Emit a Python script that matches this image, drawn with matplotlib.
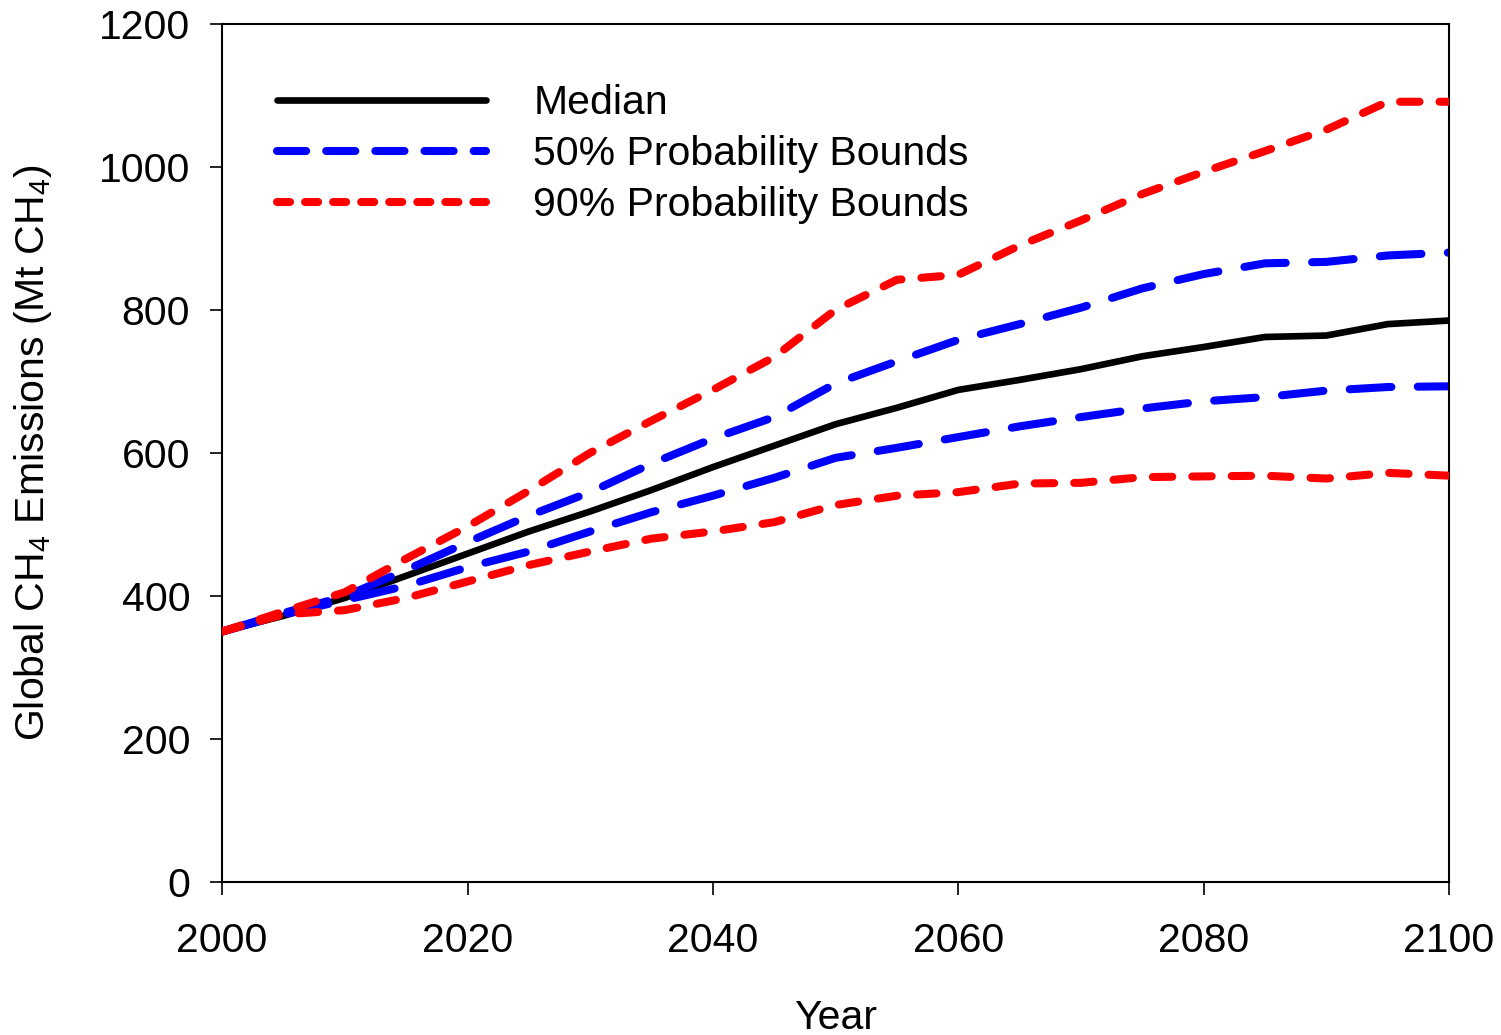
import numpy as np
import matplotlib
matplotlib.use("Agg")
import matplotlib.pyplot as plt
from matplotlib.lines import Line2D

plt.rcParams["font.family"] = ["Liberation Sans", "DejaVu Sans"]
plt.rcParams["mathtext.fontset"] = "custom"
plt.rcParams["mathtext.rm"] = "Liberation Sans"
plt.rcParams["mathtext.default"] = "regular"
plt.rcParams["lines.scale_dashes"] = False

# projection years (5-yr steps) and emissions in Mt CH4
years = np.arange(2000, 2101, 5)
median = [350, 372, 397, 428, 459, 490, 518, 548, 580, 610, 640,
          663, 688, 702, 717, 735, 748, 762, 764, 780, 785]
upper_50 = [350, 376, 399, 436, 475, 512, 545, 585, 620, 650, 697,
            728, 758, 780, 803, 830, 850, 865, 867, 876, 880]
lower_50 = [350, 374, 394, 414, 440, 462, 490, 517, 540, 565, 593,
            607, 622, 637, 650, 662, 672, 678, 687, 692, 693]
upper_90 = [350, 378, 405, 452, 497, 547, 600, 645, 688, 734, 800,
            842, 849, 890, 925, 962, 993, 1022, 1052, 1091, 1091]
lower_90 = [350, 374, 380, 397, 420, 443, 462, 480, 490, 503, 527,
            540, 545, 557, 558, 566, 567, 568, 564, 572, 568]

labels = ["Median", "50% Probability Bounds", "90% Probability Bounds"]

FS = 29.5
fig = plt.figure(figsize=(15.01, 10.35), dpi=100)
ax = fig.add_axes([0.148, 0.148, 0.8174, 0.829])

LW_SOLID = 4.8
LW_DASH = 5.8
blue_dash = (0, (30, 19))
red_dash = (0, (14, 14.4))

kw = dict(solid_capstyle="round", dash_capstyle="round")
ax.plot(years, median, color="black", lw=LW_SOLID, zorder=1, **kw)
ax.plot(years, lower_50, color="blue", lw=LW_DASH, ls=blue_dash, zorder=2, **kw)
ax.plot(years, upper_50, color="blue", lw=LW_DASH, ls=blue_dash, zorder=2, **kw)
ax.plot(years, lower_90, color="red", lw=LW_DASH, ls=red_dash, zorder=3, **kw)
ax.plot(years, upper_90, color="red", lw=LW_DASH, ls=red_dash, zorder=3, **kw)

ax.set_xlim(2000, 2100)
ax.set_ylim(0, 1200)
ax.set_xticks(np.arange(2000, 2101, 20))
ax.set_yticks(np.arange(0, 1201, 200))
ax.tick_params(axis="both", direction="out", length=9, width=1.2, labelsize=FS)
ax.tick_params(axis="x", pad=20)
ax.tick_params(axis="y", pad=14)
for s in ax.spines.values():
    s.set_linewidth(1.5)

ax.set_xlabel("Year", fontsize=FS, labelpad=28)
ax.set_ylabel("Global CH$_4$ Emissions (Mt CH$_4$)", fontsize=FS, labelpad=32)

handles = [
    Line2D([], [], color="black", lw=LW_SOLID, solid_capstyle="round"),
    Line2D([], [], color="blue", lw=LW_DASH, ls=(0, (21, 14.4)), dash_capstyle="round"),
    Line2D([], [], color="red", lw=LW_DASH, ls=(0, (9.4, 10.8)), dash_capstyle="round"),
]
ax.legend(handles, labels, loc="upper left", bbox_to_anchor=(0.045, 0.93),
          frameon=False, fontsize=FS, handlelength=5.1, handletextpad=1.15,
          labelspacing=0.32, borderaxespad=0, borderpad=0)

fig.savefig("out.png", dpi=100)
